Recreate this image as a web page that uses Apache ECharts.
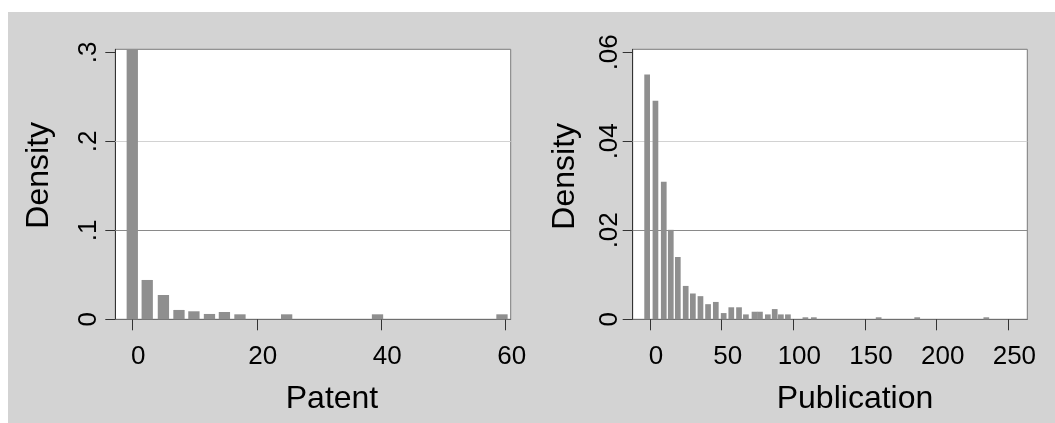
<!DOCTYPE html>
<html>
<head>
<meta charset="utf-8">
<script src="https://cdn.jsdelivr.net/npm/echarts@6/dist/echarts.min.js"></script>
<style>
  html, body { margin: 0; padding: 0; background: #fff; }
  #chart { position: absolute; left: 8px; top: 12px; width: 1047px; height: 411px; }
</style>
</head>
<body>
<div id="chart"></div>
<script>
// patent histogram (bin centre, density)
var patentX = [0, 2.4, 5.0, 7.5, 9.9, 12.4, 14.8, 17.3, 24.8, 39.4, 59.4];
var patentDensity = [0.3034, 0.0442, 0.0273, 0.0105, 0.009, 0.006, 0.0082, 0.0056, 0.0056, 0.0056, 0.0056];
var patentXTicks = [0, 20, 40, 60];
var patentYTicks = [0, 0.1, 0.2, 0.3];

// publication histogram
var pubX = [-2.0, 3.8, 9.6, 14.5, 19.4, 24.9, 29.9, 35.2, 40.5, 45.9, 51.4, 56.7, 62.1, 66.9, 72.9, 76.7, 82.2, 87.0, 91.3, 96.2, 108.4, 114.3, 159.5, 186.4, 234.6];
var pubDensity = [0.055, 0.0491, 0.0309, 0.0201, 0.014, 0.0075, 0.0058, 0.0052, 0.0034, 0.0039, 0.0014, 0.0027, 0.0027, 0.0011, 0.0017, 0.0017, 0.0011, 0.0023, 0.0011, 0.0011, 0.00045, 0.00045, 0.00045, 0.00045, 0.00045];
var pubXTicks = [0, 50, 100, 150, 200, 250];
var pubYTicks = [0, 0.02, 0.04, 0.06];

var FONT = "'Liberation Sans', Arial, Helvetica, sans-serif";
var barColor = '#8f8f8f';
var gridColors = ['#8a8a8a', '#d2d2d2'];

function pairs(xs, ys) {
  return xs.map(function (x, i) { return [x, ys[i]]; });
}
function stataLabel(v) {
  if (v === 0) return '0';
  return String(v).replace(/^0/, '');
}
function gridLines(ticks) {
  // inner ticks only, first darker, second lighter (like the picture)
  return ticks.slice(1, -1).map(function (v, i) {
    return { yAxis: v, lineStyle: { color: gridColors[i % 2], width: 1, type: 'solid' } };
  });
}

function xAxisFor(idx, min, max, ticks, name, namePad) {
  return {
    type: 'value', gridIndex: idx, min: min, max: max,
    name: name, nameLocation: 'middle', nameGap: 64,
    nameTextStyle: { fontFamily: FONT, fontSize: 32, color: '#000', padding: namePad },
    axisLine: { show: true, onZero: false, lineStyle: { color: '#6e6e6e', width: 1 } },
    axisTick: { show: true, length: 11, customValues: ticks, lineStyle: { color: '#333', width: 1 } },
    axisLabel: { customValues: ticks, fontFamily: FONT, fontSize: 26, color: '#000', margin: 25,
                 padding: [0, 0, 0, 12], formatter: stataLabel },
    splitLine: { show: false }
  };
}
function yAxisFor(idx, max, ticks, nameGap, namePad, labMargin) {
  return {
    type: 'value', gridIndex: idx, min: 0, max: max,
    name: 'Density', nameLocation: 'middle', nameGap: nameGap, nameRotate: 90,
    nameTextStyle: { fontFamily: FONT, fontSize: 32, color: '#000', padding: namePad },
    axisLine: { show: true, onZero: false, lineStyle: { color: '#333', width: 1 } },
    axisTick: { show: true, length: 10, customValues: ticks, lineStyle: { color: '#333', width: 1 } },
    axisLabel: { customValues: ticks, rotate: 90, fontFamily: FONT, fontSize: 26, color: '#000',
                 margin: labMargin, formatter: stataLabel },
    splitLine: { show: false }
  };
}

var chart = echarts.init(document.getElementById('chart'));
chart.setOption({
  backgroundColor: '#d3d3d3',
  animation: false,
  grid: [
    { left: 107.3, top: 37.3, width: 395.4, height: 270, show: true, backgroundColor: '#fff', borderColor: '#7a7a7a', borderWidth: 1 },
    { left: 624.7, top: 37.3, width: 394.6, height: 270, show: true, backgroundColor: '#fff', borderColor: '#7a7a7a', borderWidth: 1 }
  ],
  xAxis: [
    xAxisFor(0, -2.73, 60.8, patentXTicks, 'Patent', [0, 0, 0, 38]),
    xAxisFor(1, -12.07, 263.2, pubXTicks, 'Publication', [0, 0, 0, 50])
  ],
  yAxis: [
    yAxisFor(0, 0.3034, patentYTicks, 60, [0, 0, 0, 18], 13),
    yAxisFor(1, 0.06067, pubYTicks, 52, [0, 0, 0, 16], 10)
  ],
  series: [
    {
      type: 'bar', xAxisIndex: 0, yAxisIndex: 0, barWidth: 11.3,
      itemStyle: { color: barColor }, data: pairs(patentX, patentDensity),
      markLine: { silent: true, symbol: 'none', z: 1, label: { show: false }, data: gridLines(patentYTicks) }
    },
    {
      type: 'bar', xAxisIndex: 1, yAxisIndex: 1, barWidth: 5.7,
      itemStyle: { color: barColor }, data: pairs(pubX, pubDensity),
      markLine: { silent: true, symbol: 'none', z: 1, label: { show: false }, data: gridLines(pubYTicks) }
    }
  ]
});
</script>
</body>
</html>
